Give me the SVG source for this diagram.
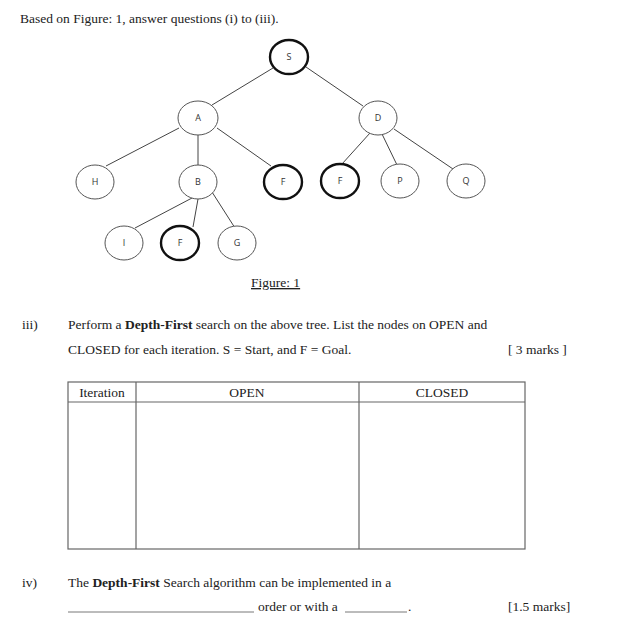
<svg xmlns="http://www.w3.org/2000/svg" width="632" height="640" viewBox="0 0 632 640">
<style>
.t{font-family:"Liberation Serif",serif;font-size:13.5px;fill:#222}
.b{font-weight:bold}
.n ellipse{fill:#fff;stroke:#555;stroke-width:1}
.g ellipse{fill:#fff;stroke:#111;stroke-width:2.4}
.lbl{font-family:"Open Sans","Liberation Sans",sans-serif;font-size:9px;fill:#333;text-anchor:middle}
.e line{stroke:#444;stroke-width:1}
.tb{fill:none;stroke:#666;stroke-width:1.2}
</style>
<rect width="632" height="640" fill="#fff"/>
<text class="t" x="20" y="23">Based on Figure: 1, answer questions (i) to (iii).</text>
<g id="edges" class="e">
<line x1="273" y1="68" x2="212" y2="105"/>
<line x1="306" y1="67" x2="363" y2="106"/>
<line x1="179" y1="128" x2="106" y2="166"/>
<line x1="198" y1="135" x2="198" y2="165"/>
<line x1="217" y1="128" x2="271" y2="166"/>
<line x1="370" y1="133" x2="342" y2="164"/>
<line x1="382" y1="134" x2="397" y2="165"/>
<line x1="394" y1="129" x2="453" y2="169"/>
<line x1="192" y1="198" x2="135" y2="228"/>
<line x1="198" y1="199" x2="193" y2="227"/>
<line x1="212" y1="192" x2="235" y2="228"/>
</g>
<g id="S" class="g"><ellipse cx="289" cy="57" rx="19" ry="17"/><text class="lbl" x="289" y="60">S</text></g>
<g id="A" class="n"><ellipse cx="198" cy="118" rx="20" ry="17"/><text class="lbl" x="198" y="121">A</text></g>
<g id="D" class="n"><ellipse cx="378" cy="118" rx="19" ry="17"/><text class="lbl" x="378" y="121">D</text></g>
<g id="H" class="n"><ellipse cx="95" cy="182" rx="19" ry="17"/><text class="lbl" x="95" y="185">H</text></g>
<g id="B" class="n"><ellipse cx="198" cy="182" rx="19" ry="17"/><text class="lbl" x="198" y="185">B</text></g>
<g id="F1" class="g"><ellipse cx="283" cy="182" rx="19" ry="17"/><text class="lbl" x="283" y="185">F</text></g>
<g id="F3" class="g"><ellipse cx="340" cy="181" rx="19" ry="17"/><text class="lbl" x="340" y="184">F</text></g>
<g id="P" class="n"><ellipse cx="400" cy="181" rx="19" ry="17"/><text class="lbl" x="400" y="184">P</text></g>
<g id="Q" class="n"><ellipse cx="466" cy="181" rx="19" ry="17"/><text class="lbl" x="466" y="184">Q</text></g>
<g id="I" class="n"><ellipse cx="124" cy="243" rx="19" ry="17"/><text class="lbl" x="124" y="246">I</text></g>
<g id="F2" class="g"><ellipse cx="180" cy="243" rx="19" ry="17"/><text class="lbl" x="180" y="246">F</text></g>
<g id="G" class="n"><ellipse cx="237" cy="243" rx="19" ry="17"/><text class="lbl" x="237" y="246">G</text></g>
<text class="t" x="251" y="287" text-decoration="underline">Figure: 1</text>
<text class="t" x="22" y="329">iii)</text>
<text class="t" x="68" y="329">Perform a <tspan class="b">Depth-First</tspan> search on the above tree. List the nodes on OPEN and</text>
<text class="t" x="68" y="354">CLOSED for each iteration.  S = Start, and F = Goal.</text>
<text class="t" x="508" y="354">[ 3 marks ]</text>
<g id="table">
<rect class="tb" x="68" y="382" width="457" height="167"/>
<line class="tb" x1="68" y1="402" x2="525" y2="402"/>
<line class="tb" x1="136" y1="382" x2="136" y2="549"/>
<line class="tb" x1="359" y1="382" x2="359" y2="549"/>
<text class="t" x="102" y="397" text-anchor="middle">Iteration</text>
<text class="t" x="247" y="397" text-anchor="middle">OPEN</text>
<text class="t" x="442" y="397" text-anchor="middle">CLOSED</text>
</g>
<text class="t" x="22" y="587">iv)</text>
<text class="t" x="68" y="587">The <tspan class="b">Depth-First</tspan> Search algorithm can be implemented in a</text>
<line x1="68" y1="612" x2="254" y2="612" stroke="#555" stroke-width="0.8"/>
<text class="t" x="258" y="611">order or with a</text>
<line x1="345" y1="612" x2="407" y2="612" stroke="#555" stroke-width="0.8"/>
<text class="t" x="408" y="611">.</text>
<text class="t" x="508" y="611">[1.5 marks]</text>
</svg>
